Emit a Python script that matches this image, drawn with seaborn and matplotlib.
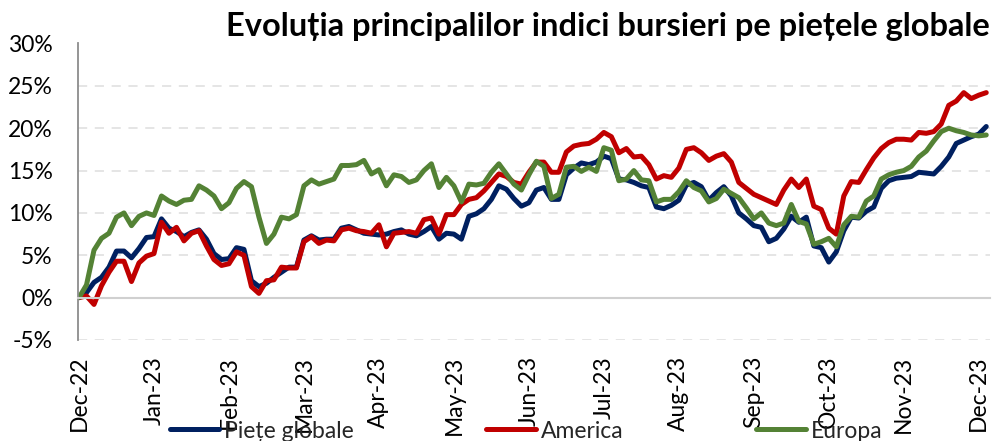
import numpy as np
import pandas as pd
import matplotlib
matplotlib.use("Agg")
import matplotlib.pyplot as plt
import seaborn as sns
from matplotlib.ticker import PercentFormatter

TITLU = "Evoluția principalilor indici bursieri pe piețele globale"

# etichetele axei X (o etichetă pe lună)
LUNI = ["Dec-22", "Jan-23", "Feb-23", "Mar-23", "Apr-23", "May-23", "Jun-23",
        "Jul-23", "Aug-23", "Sep-23", "Oct-23", "Nov-23", "Dec-23"]

# randament cumulat (%), câte un punct la 0,1 luni
piete_globale = [
    0.0, 0.6, 1.8, 2.4, 3.6, 5.5, 5.5, 4.7, 5.8, 7.1,
    7.2, 9.3, 8.2, 7.8, 7.2, 7.7, 8.0, 6.9, 5.2, 4.5,
    4.6, 5.9, 5.7, 2.0, 1.3, 1.7, 2.4, 3.0, 3.6, 3.6,
    6.8, 7.3, 6.8, 6.9, 6.9, 8.2, 8.4, 8.0, 7.6, 7.5,
    7.4, 7.5, 7.8, 8.0, 7.5, 7.3, 7.8, 8.4, 6.9, 7.6,
    7.5, 6.9, 9.6, 9.9, 10.5, 11.6, 13.2, 12.8, 11.7, 10.8,
    11.2, 12.7, 13.0, 11.6, 11.6, 14.5, 15.3, 15.9, 15.7, 16.0,
    16.7, 16.4, 14.0, 13.9, 13.6, 13.2, 13.0, 10.7, 10.5, 10.9,
    11.5, 13.3, 13.6, 13.1, 11.5, 12.4, 13.1, 12.0, 10.0, 9.3,
    8.5, 8.3, 6.6, 7.0, 8.1, 9.6, 8.9, 9.5, 6.1, 5.9,
    4.2, 5.4, 7.9, 9.5, 9.4, 10.2, 10.7, 12.9, 13.8, 14.1,
    14.2, 14.3, 14.8, 14.7, 14.6, 15.5, 16.6, 18.2, 18.6, 19.0,
    19.3, 20.2,
]
america = [
    0.0, 0.2, -0.8, 1.4, 3.0, 4.3, 4.3, 1.9, 4.1, 4.9,
    5.2, 8.9, 7.6, 8.3, 6.7, 7.6, 7.9, 6.1, 4.5, 3.8,
    4.0, 5.4, 5.0, 1.3, 0.5, 2.0, 2.1, 3.6, 3.5, 3.5,
    6.6, 7.2, 6.4, 6.8, 6.7, 8.0, 8.2, 7.9, 7.8, 7.6,
    8.6, 6.0, 7.6, 7.7, 7.8, 7.6, 9.2, 9.4, 7.5, 9.8,
    9.8, 11.0, 11.6, 11.8, 12.6, 13.6, 14.6, 14.3, 13.6, 13.4,
    14.8, 16.0, 16.0, 14.8, 14.8, 17.2, 17.9, 18.1, 18.2, 18.7,
    19.5, 19.0, 17.1, 17.6, 16.6, 16.7, 15.7, 14.0, 14.4, 14.2,
    15.3, 17.5, 17.7, 17.1, 16.2, 16.7, 17.0, 16.0, 13.6, 12.9,
    12.2, 11.8, 11.4, 11.0, 12.7, 14.0, 13.0, 14.0, 10.8, 10.4,
    8.2, 7.5, 12.0, 13.7, 13.6, 15.1, 16.5, 17.6, 18.3, 18.7,
    18.7, 18.6, 19.5, 19.4, 19.6, 20.5, 22.7, 23.2, 24.2, 23.5,
    23.9, 24.2,
]
europa = [
    0.0, 1.5, 5.6, 7.0, 7.6, 9.5, 10.0, 8.5, 9.6, 10.0,
    9.7, 12.0, 11.4, 11.0, 11.5, 11.6, 13.2, 12.7, 12.0, 10.5,
    11.2, 12.9, 13.7, 13.1, 9.5, 6.4, 7.5, 9.5, 9.3, 9.8,
    13.2, 13.9, 13.4, 13.7, 14.0, 15.6, 15.6, 15.7, 16.2, 14.6,
    15.1, 13.2, 14.5, 14.3, 13.6, 13.9, 15.0, 15.8, 13.0, 14.2,
    13.2, 11.3, 13.4, 13.3, 13.5, 14.8, 15.8, 14.6, 13.4, 12.7,
    14.5, 16.1, 15.5, 11.7, 12.2, 15.4, 15.5, 14.9, 15.4, 14.9,
    17.7, 17.4, 13.8, 14.0, 15.0, 13.9, 13.8, 11.3, 11.6, 11.6,
    12.5, 13.8, 13.0, 12.6, 11.3, 11.7, 12.8, 12.3, 11.8, 10.6,
    9.3, 10.0, 8.8, 8.5, 8.8, 11.0, 9.0, 8.7, 6.3, 6.6,
    7.0, 6.0, 8.6, 9.6, 9.5, 11.4, 12.0, 14.0, 14.5, 14.8,
    15.0, 15.5, 16.6, 17.3, 18.5, 19.6, 20.0, 19.7, 19.5, 19.2,
    19.1, 19.2,
]

SERII = {"Piețe globale": piete_globale, "America": america, "Europa": europa}
CULORI = {"Piețe globale": "#002060", "America": "#C00000", "Europa": "#548235"}

# pozitia pe axa X in luni de la Dec-22
luna = np.arange(len(piete_globale)) * 0.1

df = pd.concat(
    [pd.DataFrame({"luna": luna, "valoare": v, "indice": k}) for k, v in SERII.items()],
    ignore_index=True,
)

sns.set_theme(style="white")
plt.rcParams["font.family"] = ["Lato", "DejaVu Sans"]
plt.rcParams["axes.unicode_minus"] = False

fig = plt.figure(figsize=(9.97, 4.41), dpi=100)
ax = fig.add_axes([77.5 / 997, 101 / 441, (990 - 77.5) / 997, (340 - 43.5) / 441])

sns.lineplot(data=df, x="luna", y="valoare", hue="indice", palette=CULORI,
             linewidth=3.6, sort=False, ax=ax,
             solid_joinstyle="round", solid_capstyle="round")

ax.set_xlim(-0.02, 12.15)
ax.set_ylim(-5, 30)
ax.set_yticks(range(-5, 31, 5))
ax.yaxis.set_major_formatter(PercentFormatter(xmax=100, decimals=0))
ax.set_xticks(range(len(LUNI)))
ax.set_xticklabels(LUNI)
ax.set_xlabel("")
ax.set_ylabel("")

ax.yaxis.grid(True, color="#dedede", linestyle=(0, (6, 5)), linewidth=1.1)
ax.xaxis.grid(False)
ax.set_axisbelow(True)

for s in ["top", "right"]:
    ax.spines[s].set_visible(False)
ax.spines["left"].set_color("#8c8c8c")
ax.spines["left"].set_linewidth(1.3)
ax.spines["bottom"].set_position(("data", 0))
ax.spines["bottom"].set_color("#d0d0d0")
ax.spines["bottom"].set_linewidth(1.5)

ax.tick_params(axis="x", direction="out", length=6, width=1.2, color="#d0d0d0",
               pad=36, labelrotation=90, labelsize=16.5, labelcolor="black")
ax.tick_params(axis="y", length=0, pad=18, labelsize=16.5, labelcolor="black")

handles, labels = ax.get_legend_handles_labels()
ax.get_legend().remove()
fig.legend(handles, labels, loc="center", bbox_to_anchor=(526 / 997, 1 - 431 / 441),
           ncol=3, frameon=False, fontsize=16.5, handlelength=2.18, handletextpad=0.22,
           columnspacing=5.76, borderpad=0)

fig.text(990 / 997, 1 - 36 / 441, TITLU, ha="right", va="baseline",
         fontsize=23.5, fontweight="bold", color="black")

fig.savefig("out.png", dpi=100)
